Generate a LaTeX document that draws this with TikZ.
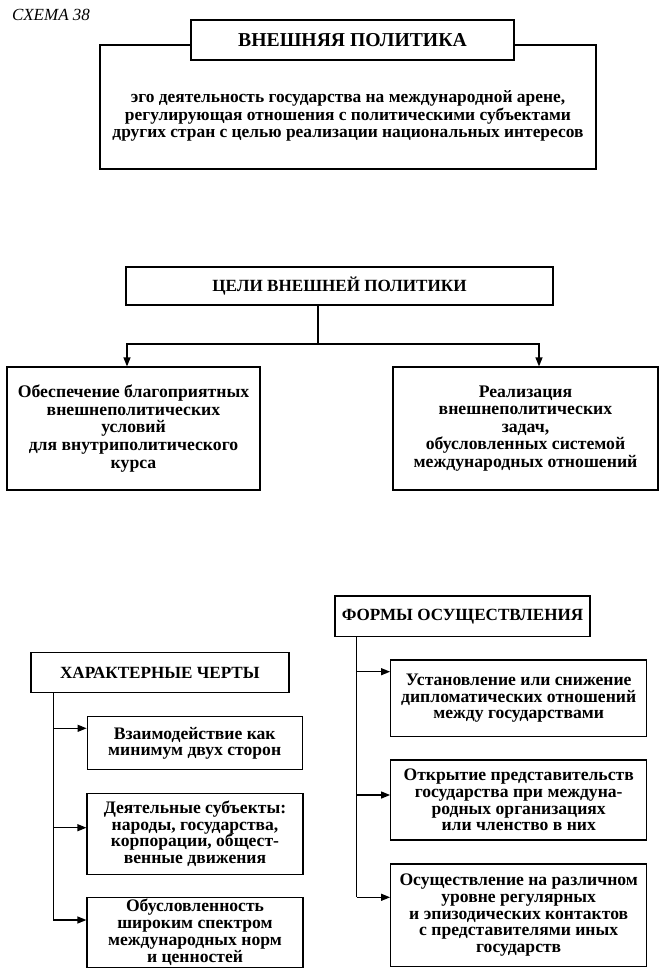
\documentclass[tikz,border=0pt]{standalone}
\usepackage{fontspec}
\setmainfont{Liberation Serif}
\usetikzlibrary{arrows.meta}
\begin{document}
\begin{tikzpicture}[x=1pt,y=-1pt,
  box/.style={draw, line width=1.2pt, fill=white, align=center, inner sep=0pt},
  ttl/.style={font=\bfseries\fontsize{17.1}{19}\selectfont},
  txt/.style={font=\bfseries\fontsize{17.6}{16.7}\selectfont},
  gtxt/.style={font=\bfseries\fontsize{17.7}{17.6}\selectfont},
  ln/.style={line width=1.2pt},
  arr/.style={line width=1.2pt, -{Triangle[length=9pt,width=7pt]}}]
\useasboundingbox (0,0) rectangle (668,978);

\node[font=\itshape\fontsize{17}{19}\selectfont, anchor=north west, inner sep=0pt] (schema) at (12,9) {СХЕМА 38};

% definition
\node[box, fill=none, minimum width=496pt, minimum height=124pt] (defbox) at (348,107) {};
\node[align=center, font=\bfseries\fontsize{17.4}{17.5}\selectfont, inner sep=0pt] (deftext) at (348,116) {эго деятельность государства на международной арене,\\регулирующая отношения с политическими субъектами\\других стран с целью реализации национальных интересов};
\node[box, minimum width=323pt, minimum height=40pt, font=\bfseries\fontsize{19.7}{22}\selectfont] (title) at (352.5,40) {ВНЕШНЯЯ ПОЛИТИКА};

% goals
\node[box, ttl, minimum width=427pt, minimum height=38pt] (goals) at (339.5,286) {ЦЕЛИ ВНЕШНЕЙ ПОЛИТИКИ};
\node[box, gtxt, minimum width=253pt, minimum height=123pt] (goalL) at (133.5,428.5) {Обеспечение благоприятных\\внешнеполитических\\условий\\для внутриполитического\\курса};
\node[box, gtxt, minimum width=265pt, minimum height=123pt] (goalR) at (525.5,428.5) {Реализация\\внешнеполитических\\задач,\\обусловленных системой\\международных отношений};
\coordinate (j) at (318,344);
\draw[ln] (goals.south -| j) -- (j);
\draw[arr] (j) -| ([xshift=-6.5pt]goalL.north);
\draw[arr] (j) -| ([xshift=13.5pt]goalR.north);

% characteristic features
\node[box, ttl, minimum width=258pt, minimum height=40pt] (chars) at (159.9,672.7) {ХАРАКТЕРНЫЕ ЧЕРТЫ};
\node[box, txt, minimum width=215pt, minimum height=53pt] (cb1) at (194.7,743.3) {Взаимодействие как\\минимум двух сторон};
\node[box, txt, minimum width=216pt, minimum height=81pt] (cb2) at (195,833.7) {Деятельные субъекты:\\народы, государства,\\корпорации, общест-\\венные движения};
\node[box, txt, minimum width=216pt, minimum height=70pt] (cb3) at (195,932.2) {Обусловленность\\широким спектром\\международных норм\\и ценностей};
\coordinate (c1) at (53.3,728.3);
\coordinate (c2) at (53.3,827.7);
\coordinate (c3) at (53.3,920);
\draw[ln] (chars.south -| c1) -- (c3);
\draw[arr] (c1) -- (c1 -| cb1.west);
\draw[arr] (c2) -- (c2 -| cb2.west);
\draw[arr] (c3) -- (c3 -| cb3.west);

% forms
\node[box, ttl, minimum width=255pt, minimum height=40.7pt] (forms) at (462.5,616.3) {ФОРМЫ ОСУЩЕСТВЛЕНИЯ};
\node[box, txt, minimum width=256pt, minimum height=76.7pt] (fb1) at (518.7,698.3) {Установление или снижение\\дипломатических отношений\\между государствами};
\node[box, txt, minimum width=256pt, minimum height=80pt] (fb2) at (518.7,800) {Открытие представительств\\государства при междуна-\\родных организациях\\или членство в них};
\node[box, txt, minimum width=256pt, minimum height=102.7pt] (fb3) at (518.7,915.3) {Осуществление на различном\\уровне регулярных\\и эпизодических контактов\\с представителями иных\\государств};
\coordinate (f1) at (356.7,671.7);
\coordinate (f2) at (356.7,795);
\coordinate (f3) at (356.7,897.3);
\draw[ln] (forms.south -| f1) -- (f3);
\draw[arr] (f1) -- (f1 -| fb1.west);
\draw[arr] (f2) -- (f2 -| fb2.west);
\draw[arr] (f3) -- (f3 -| fb3.west);
\end{tikzpicture}
\end{document}
